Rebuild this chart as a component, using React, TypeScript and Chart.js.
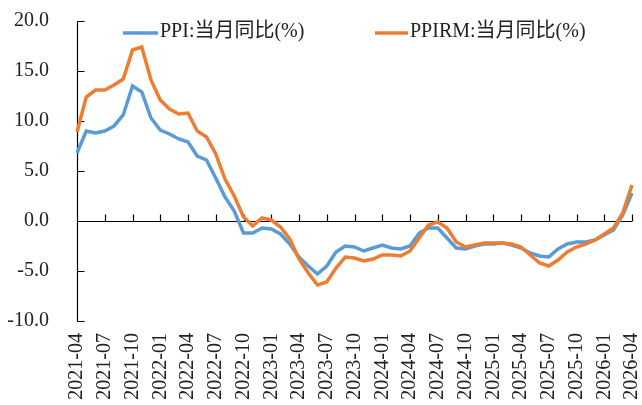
import React, { useEffect, useRef } from "react";
import { Chart, registerables } from "chart.js";

Chart.register(...registerables);

const months = [
  "2021-04","2021-05","2021-06","2021-07","2021-08","2021-09","2021-10","2021-11","2021-12",
  "2022-01","2022-02","2022-03","2022-04","2022-05","2022-06","2022-07","2022-08","2022-09","2022-10","2022-11","2022-12",
  "2023-01","2023-02","2023-03","2023-04","2023-05","2023-06","2023-07","2023-08","2023-09","2023-10","2023-11","2023-12",
  "2024-01","2024-02","2024-03","2024-04","2024-05","2024-06","2024-07","2024-08","2024-09","2024-10","2024-11","2024-12",
  "2025-01","2025-02","2025-03","2025-04","2025-05","2025-06","2025-07","2025-08","2025-09","2025-10","2025-11","2025-12",
  "2026-01","2026-02","2026-03","2026-04",
];

const ppi = [
  6.8, 9.0, 8.8, 9.0, 9.5, 10.6, 13.5, 12.9, 10.3,
  9.1, 8.7, 8.2, 7.9, 6.5, 6.1, 4.3, 2.4, 1.0, -1.2, -1.2, -0.7,
  -0.8, -1.3, -2.3, -3.6, -4.5, -5.3, -4.5, -3.1, -2.5, -2.6, -3.0, -2.7,
  -2.4, -2.7, -2.8, -2.5, -1.2, -0.7, -0.7, -1.7, -2.7, -2.8, -2.5, -2.3,
  -2.3, -2.2, -2.4, -2.7, -3.2, -3.5, -3.6, -2.8, -2.3, -2.1, -2.1, -1.9,
  -1.4, -0.9, 0.6, 2.8,
];

const ppirm = [
  8.9, 12.4, 13.1, 13.1, 13.6, 14.2, 17.1, 17.4, 14.1,
  12.1, 11.2, 10.7, 10.8, 9.0, 8.4, 6.7, 4.2, 2.5, 0.4, -0.5, 0.3,
  0.1, -0.6, -1.8, -3.8, -5.2, -6.4, -6.1, -4.7, -3.6, -3.7, -4.0, -3.8,
  -3.4, -3.4, -3.5, -3.0, -1.7, -0.4, -0.1, -0.7, -2.1, -2.6, -2.4, -2.2,
  -2.2, -2.2, -2.3, -2.6, -3.4, -4.2, -4.5, -3.9, -3.1, -2.6, -2.3, -1.9,
  -1.3, -0.7, 0.8, 3.6,
];

const seriesNames = ["PPI:当月同比(%)", "PPIRM:当月同比(%)"];
const colors = ["#5B9BD5", "#ED7D31"];
const yTicks = [-10, -5, 0, 5, 10, 15, 20];

const FONT = "'Liberation Serif', 'Times New Roman', 'Noto Sans CJK SC', serif";

const axesPlugin = {
  id: "excelAxes",
  beforeDatasetsDraw(chart: any) {
    const { ctx, chartArea } = chart;
    const x = chart.scales.x;
    const y = chart.scales.y;
    ctx.save();
    ctx.strokeStyle = "#000";
    ctx.lineWidth = 1.2;
    const lx = Math.round(chartArea.left) + 0.5;
    ctx.beginPath();
    ctx.moveTo(lx, Math.round(y.getPixelForValue(yTicks[yTicks.length - 1])) + 0.5);
    ctx.lineTo(lx, Math.round(y.getPixelForValue(yTicks[0])) + 0.5);
    yTicks.forEach((v) => {
      const py = Math.round(y.getPixelForValue(v)) + 0.5;
      ctx.moveTo(lx, py);
      ctx.lineTo(lx + 7, py);
    });
    const zy = Math.round(y.getPixelForValue(0)) + 0.5;
    ctx.moveTo(lx, zy);
    ctx.lineTo(x.getPixelForValue(months.length - 1), zy);
    months.forEach((_, i) => {
      if (i % 3 === 0) {
        const px = Math.round(x.getPixelForValue(i)) + 0.5;
        ctx.moveTo(px, zy);
        ctx.lineTo(px, zy - 7);
      }
    });
    ctx.stroke();
    ctx.restore();
  },
  afterDraw(chart: any) {
    const { ctx } = chart;
    ctx.save();
    ctx.font = `20px ${FONT}`;
    ctx.textBaseline = "middle";
    ctx.fillStyle = "#222";
    const items = [
      { x0: 123, x1: 158, tx: 160 },
      { x0: 375, x1: 408, tx: 410 },
    ];
    const ly = 32;
    items.forEach((it, i) => {
      ctx.strokeStyle = colors[i];
      ctx.lineWidth = 3.5;
      ctx.beginPath();
      ctx.moveTo(it.x0, ly + 1);
      ctx.lineTo(it.x1, ly + 1);
      ctx.stroke();
      ctx.fillText(seriesNames[i], it.tx, ly);
    });
    ctx.restore();
  },
};

export default function App() {
  const ref = useRef<HTMLCanvasElement | null>(null);
  useEffect(() => {
    if (!ref.current) return;
    const chart = new Chart(ref.current, {
      type: "line",
      data: {
        labels: months,
        datasets: [
          {
            label: seriesNames[0],
            data: ppi,
            borderColor: colors[0],
            backgroundColor: colors[0],
            borderWidth: 3.5,
            pointRadius: 0,
            tension: 0,
            order: 2,
          },
          {
            label: seriesNames[1],
            data: ppirm,
            borderColor: colors[1],
            backgroundColor: colors[1],
            borderWidth: 3.5,
            pointRadius: 0,
            tension: 0,
            order: 1,
          },
        ],
      },
      options: {
        animation: false,
        responsive: false,
        devicePixelRatio: 1,
        layout: { padding: { top: 21, right: 10, left: 0, bottom: 0 } },
        plugins: {
          legend: { display: false },
          tooltip: { enabled: false },
        },
        scales: {
          x: {
            type: "category",
            offset: false,
            grid: { display: false, drawTicks: false },
            border: { display: false },
            afterFit: (s: any) => {
              s.height = 84;
              s.paddingLeft = 0;
              s.paddingRight = 0;
            },
            ticks: {
              autoSkip: false,
              maxRotation: 90,
              minRotation: 90,
              padding: 12,
              color: "#222",
              font: { size: 20, family: FONT },
              callback: (_v: any, i: number) => (i % 3 === 0 ? months[i] : ""),
            },
          },
          y: {
            min: -10,
            max: 20,
            grid: { display: false, drawTicks: false },
            border: { display: false },
            afterFit: (s: any) => {
              s.width = 77;
              s.paddingTop = 0;
              s.paddingBottom = 0;
            },
            ticks: {
              stepSize: 5,
              padding: 28,
              color: "#222",
              font: { size: 20, family: FONT },
              callback: (v: any) => Number(v).toFixed(1),
            },
          },
        },
      },
      plugins: [axesPlugin],
    });
    return () => chart.destroy();
  }, []);
  return (
    <canvas
      ref={ref}
      width={642}
      height={405}
      style={{ position: "absolute", left: 0, top: 0, width: 642, height: 405, display: "block" }}
    />
  );
}
